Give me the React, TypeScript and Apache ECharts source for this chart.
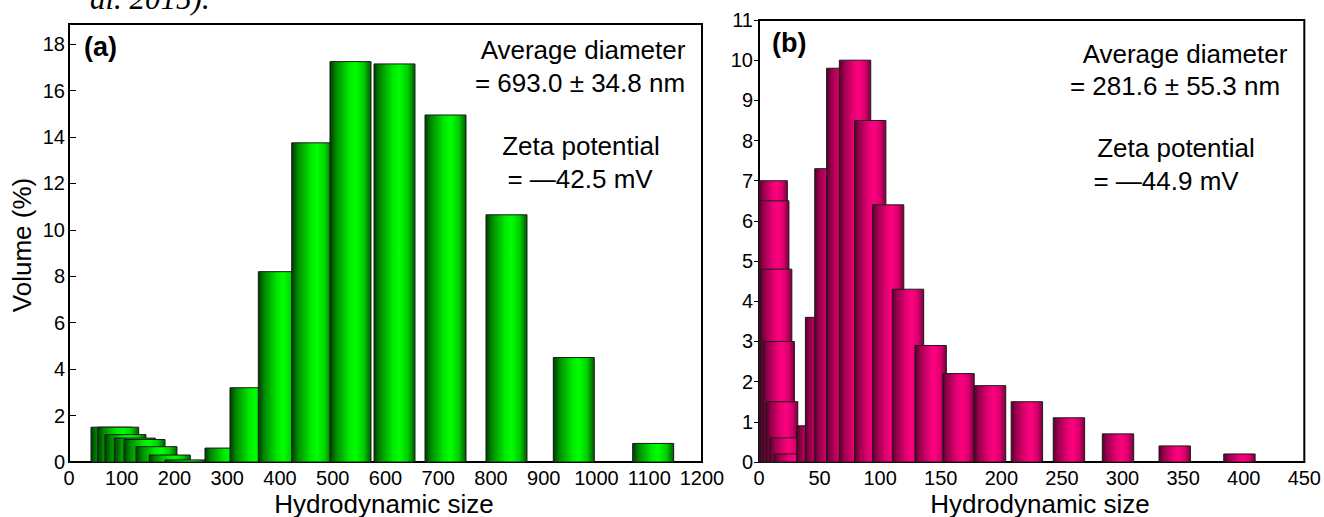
import React, { useEffect, useRef } from "react";
import * as echarts from "echarts";

// Panel (a): bar start positions (hydrodynamic size) and volume (%)
const aStarts = [41.7, 54.4, 68.2, 85.9, 104.3, 127.0, 152.2, 182.0, 257.8, 305.2, 358.9, 422.2, 494.8, 578.2, 674.9, 790.5, 918.1, 1068.6];
const aVolumes = [1.5, 1.5, 1.18, 1.03, 0.97, 0.66, 0.3, 0.09, 0.6, 3.2, 8.2, 13.75, 17.25, 17.15, 14.95, 10.65, 4.5, 0.8];
const aBinWidth = 77.7;

// Panel (b)
const bStarts = [-2.5, -1.2, 1.2, 3.3, 6.1, 9.0, 12.6, 31.2, 38.3, 46.0, 55.8, 66.3, 78.8, 93.6, 110.0, 128.7, 151.7, 177.7, 208.1, 242.8, 283.3, 330.1, 383.5];
const bVolumes = [7.0, 6.5, 4.8, 3.0, 1.5, 0.6, 0.2, 0.9, 3.6, 7.3, 9.8, 10.0, 8.5, 6.4, 4.3, 2.9, 2.2, 1.9, 1.5, 1.1, 0.7, 0.4, 0.2];
const bBinWidth = 25.9;

const aYTicks = [0, 2, 4, 6, 8, 10, 12, 14, 16, 18];

const aNotes = ["Average diameter", "= 693.0 ± 34.8 nm", "Zeta potential", "= \u201442.5 mV"];
const bNotes = ["Average diameter", "= 281.6 ± 55.3 nm", "Zeta potential", "= \u201444.9 mV"];

const FONT = "Arial, 'Liberation Sans', sans-serif";

function makeRender(width: number, stops: [number, string][]) {
  return (params: any, api: any) => {
    const x0 = api.value(0);
    const h = api.value(1);
    const p0 = api.coord([x0, 0]);
    const p1 = api.coord([x0 + width, h]);
    const cs = params.coordSys;
    const left = Math.max(p0[0], cs.x);
    const right = Math.min(p1[0], cs.x + cs.width);
    return {
      type: "rect",
      shape: { x: left, y: p1[1], width: right - left, height: p0[1] - p1[1] },
      style: {
        fill: new echarts.graphic.LinearGradient(
          0, 0, 1, 0,
          stops.map(([offset, color]) => ({ offset, color }))
        ),
        stroke: "#1a1a1a",
        lineWidth: 1,
      },
    };
  };
}

const greenStops: [number, string][] = [
  [0, "#003c00"],
  [0.15, "#008a00"],
  [0.45, "#00e600"],
  [0.62, "#00ff00"],
  [0.82, "#00d000"],
  [1, "#005a00"],
];
const pinkStops: [number, string][] = [
  [0, "#55002a"],
  [0.15, "#99004c"],
  [0.45, "#e60073"],
  [0.62, "#ff0080"],
  [0.82, "#d9006c"],
  [1, "#7a003d"],
];

export default function App() {
  const ref = useRef<HTMLDivElement>(null);
  useEffect(() => {
    if (!ref.current) return;
    const chart = echarts.init(ref.current, undefined, { renderer: "svg" });
    const labelStyle = { color: "#000", fontSize: 20, fontFamily: FONT };
    const noteText = (text: string, x: number, y: number, size = 26) => ({
      type: "text",
      x,
      y,
      style: { text, fill: "#000", font: `${size}px ${FONT}`, align: "center", verticalAlign: "middle" },
    });
    chart.setOption({
      animation: false,
      backgroundColor: "#fff",
      grid: [
        { left: 69, top: 24, width: 633, height: 438, show: true, borderColor: "#000", borderWidth: 2, backgroundColor: "transparent" },
        { left: 759, top: 20, width: 548, height: 442, show: true, borderColor: "#000", borderWidth: 2, backgroundColor: "transparent" },
      ],
      xAxis: [
        {
          type: "value", gridIndex: 0, min: 0, max: 1200, interval: 100,
          axisLine: { show: true, lineStyle: { color: "#000", width: 2 } },
          axisTick: { show: false },
          splitLine: { show: false },
          axisLabel: { ...labelStyle, margin: 6, formatter: (v: number) => String(v) },
        },
        {
          type: "value", gridIndex: 1, min: 0, max: 450, interval: 50,
          axisLine: { show: true, lineStyle: { color: "#000", width: 2 } },
          axisTick: { show: false },
          splitLine: { show: false },
          axisLabel: { ...labelStyle, margin: 6, formatter: (v: number) => String(v) },
        },
      ],
      yAxis: [
        {
          type: "value", gridIndex: 0, min: 0, max: 18.87, interval: 2,
          axisLine: { show: true, lineStyle: { color: "#000", width: 2 } },
          axisTick: { show: true, inside: true, length: 7, lineStyle: { color: "#000", width: 1 } },
          splitLine: { show: false },
          axisLabel: {
            ...labelStyle,
            margin: 4,
            formatter: (v: number) => (aYTicks.includes(Math.round(v * 100) / 100) ? String(v) : ""),
          },
        },
        {
          type: "value", gridIndex: 1, min: 0, max: 11, interval: 1,
          axisLine: { show: true, lineStyle: { color: "#000", width: 2 } },
          axisTick: { show: true, inside: false, length: 5, lineStyle: { color: "#000", width: 1 } },
          splitLine: { show: false },
          axisLabel: { ...labelStyle, margin: 6 },
        },
      ],
      series: [
        {
          type: "custom",
          xAxisIndex: 0,
          yAxisIndex: 0,
          renderItem: makeRender(aBinWidth, greenStops),
          data: aStarts.map((s, i) => [s, aVolumes[i]]),
          encode: { x: 0, y: 1 },
        },
        {
          type: "custom",
          xAxisIndex: 1,
          yAxisIndex: 1,
          renderItem: makeRender(bBinWidth, pinkStops),
          data: bStarts.map((s, i) => [s, bVolumes[i]]),
          encode: { x: 0, y: 1 },
        },
      ],
      graphic: [
        {
          type: "text", x: 90, y: -2,
          style: { text: "al. 2015).", fill: "#000", font: "italic 31px 'Liberation Serif', 'Times New Roman', serif", align: "left", verticalAlign: "middle" },
        },
        {
          type: "text", x: 84, y: 47,
          style: { text: "(a)", fill: "#000", font: `bold 27px ${FONT}`, align: "left", verticalAlign: "middle" },
        },
        {
          type: "text", x: 772, y: 43,
          style: { text: "(b)", fill: "#000", font: `bold 27px ${FONT}`, align: "left", verticalAlign: "middle" },
        },
        noteText(aNotes[0], 583, 50),
        noteText(aNotes[1], 580, 83),
        noteText(aNotes[2], 581, 146),
        noteText(aNotes[3], 580, 179),
        noteText(bNotes[0], 1185, 54),
        noteText(bNotes[1], 1175, 86),
        noteText(bNotes[2], 1176, 148),
        noteText(bNotes[3], 1166, 181),
        {
          type: "text", x: 22, y: 245, rotation: Math.PI / 2,
          style: { text: "Volume (%)", fill: "#000", font: `26px ${FONT}`, align: "center", verticalAlign: "middle" },
        },
        noteText("Hydrodynamic size", 384, 504),
        noteText("Hydrodynamic size", 1040, 504),
      ],
    });
    return () => chart.dispose();
  }, []);
  return (
    <div
      ref={ref}
      style={{ position: "fixed", left: 0, top: 0, width: 1324, height: 517 }}
    />
  );
}
